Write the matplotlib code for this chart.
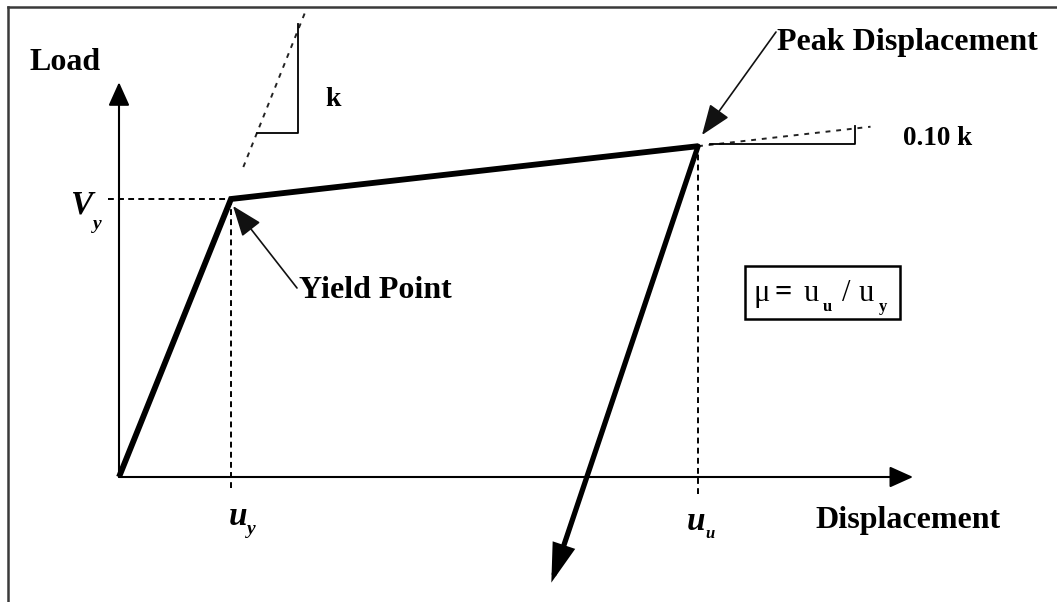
import matplotlib
matplotlib.use("Agg")
import matplotlib.pyplot as plt
from matplotlib.lines import Line2D

# ---------------- data (normalised units: u_y = 1, V_y = 1) ----------------
origin = [0.0, 0.0]
yield_pt = [1.00, 1.00]          # (u_y, V_y)
peak_pt = [5.17, 1.19]           # (u_u, V_u)
unload_end = [3.86, -0.38]       # tip of the unloading arrow
curve_x = [origin[0], yield_pt[0], peak_pt[0]]
curve_y = [origin[1], yield_pt[1], peak_pt[1]]

x_axis_end = 7.09
y_axis_end = 1.42

vy_dash_x = [-0.10, 1.00]
uy_dash_y = [-0.04, 1.00]
uu_dash_y = [-0.06, 1.19]

k_line_x = [1.11, 1.66]
k_line_y = [1.115, 1.67]
k_tri_x = [1.23, 1.60, 1.60]
k_tri_y = [1.237, 1.237, 1.63]

k01_line_x = [5.17, 6.71]
k01_line_y = [1.19, 1.26]
k01_tri_x = [5.28, 6.57, 6.57]
k01_tri_y = [1.197, 1.197, 1.263]

# ---------------- layout helpers (pixel -> data) ----------------
W, H = 1057, 602
X0, Y0, SX, SY = 119, 477, 112, 278
def px(x):
    return (x - X0) / SX
def py(y):
    return (Y0 - y) / SY

fig = plt.figure(figsize=(W / 100, H / 100), dpi=100)
ax = fig.add_axes([0, 0, 1, 1])
ax.set_xlim(px(0), px(W))
ax.set_ylim(py(H), py(0))
ax.axis("off")

SERIF = "Liberation Serif"
BLACK = "black"

# frame lines (top and left)
fig.add_artist(Line2D([8 / W, 1], [1 - 7 / H, 1 - 7 / H], color="#3a3a3a", lw=1.8,
                      transform=fig.transFigure))
fig.add_artist(Line2D([8 / W, 8 / W], [0, 1 - 7 / H], color="#3a3a3a", lw=1.8,
                      transform=fig.transFigure))

# axes arrows
ax_arrow = dict(arrowstyle="-|>,head_length=0.4,head_width=0.18", mutation_scale=36,
                lw=1.5, color=BLACK, shrinkA=0, shrinkB=0)
ax.annotate("", xy=(x_axis_end, 0), xytext=(origin[0], origin[1]), arrowprops=ax_arrow)
ax.annotate("", xy=(0, y_axis_end), xytext=(origin[0], origin[1]), arrowprops=ax_arrow)

# dashed guide lines
dash = dict(color=BLACK, lw=1.4, linestyle=(0, (3.0, 2.2)))
ax.plot(vy_dash_x, [yield_pt[1], yield_pt[1]], **dash)
ax.plot([yield_pt[0], yield_pt[0]], uy_dash_y, **dash)
ax.plot([peak_pt[0], peak_pt[0]], uu_dash_y, **dash)
ax.plot(k_line_x, k_line_y, color="#222222", lw=1.4, linestyle=(0, (2.5, 3)))
ax.plot(k01_line_x, k01_line_y, color="#222222", lw=1.4, linestyle=(0, (2.5, 3)))

# slope triangles
ax.plot(k_tri_x, k_tri_y, color=BLACK, lw=1.3)
ax.plot(k01_tri_x, k01_tri_y, color=BLACK, lw=1.3)

# main load-displacement curve
ax.plot(curve_x, curve_y, color=BLACK, lw=4.2, solid_joinstyle="miter",
        solid_capstyle="butt")
ax.annotate("", xy=(unload_end[0], unload_end[1]), xytext=(peak_pt[0], peak_pt[1]),
            arrowprops=dict(arrowstyle="-|>,head_length=1.0,head_width=0.3",
                            mutation_scale=20, lw=3.8, color=BLACK,
                            shrinkA=0, shrinkB=0, joinstyle="miter"))

# pointer arrows
ptr = dict(arrowstyle="-|>,head_length=0.95,head_width=0.36", mutation_scale=20,
           lw=1.2, color="#111111", shrinkA=0, shrinkB=0)
ax.annotate("", xy=(px(702), py(135)), xytext=(px(776), py(32)), arrowprops=ptr)
ax.annotate("", xy=(px(233), py(206)), xytext=(px(297), py(288)), arrowprops=ptr)

# texts
def T(x, y, s, size, weight="bold", style="normal", ha="left"):
    ax.text(px(x), py(y), s, fontsize=size, fontfamily=SERIF, fontweight=weight,
            fontstyle=style, ha=ha, va="baseline", color=BLACK)

T(30, 70, "Load", 23)
T(815, 528, "Displacement", 23)
T(777, 50, "Peak Displacement", 23)
T(299, 298, "Yield Point", 23)
T(325, 106, "k", 20)
T(903, 145, "0.10 k", 19.5)

# V_y, u_y, u_u
T(70, 213, "V", 24, style="italic")
T(93, 229, "y", 14, style="italic")
T(229, 525, "u", 24, style="italic")
T(247, 534, "y", 14, style="italic")
T(687, 530, "u", 24, style="italic")
T(705, 538, "u", 12, style="italic")

# ductility box
T(753, 301, "\u03bc", 22, weight="normal")
T(775, 301, "=", 22)
T(804, 301, "u", 22, weight="normal")
T(823, 311, "u", 12)
T(842, 301, "/", 22, weight="normal")
T(859, 301, "u", 22, weight="normal")
T(879, 311, "y", 12)
ax.add_patch(plt.Rectangle((px(745), py(319)), px(900) - px(745), py(266) - py(319),
                           fill=False, lw=1.8, edgecolor=BLACK))

fig.savefig("out.png", dpi=100, facecolor="white")
